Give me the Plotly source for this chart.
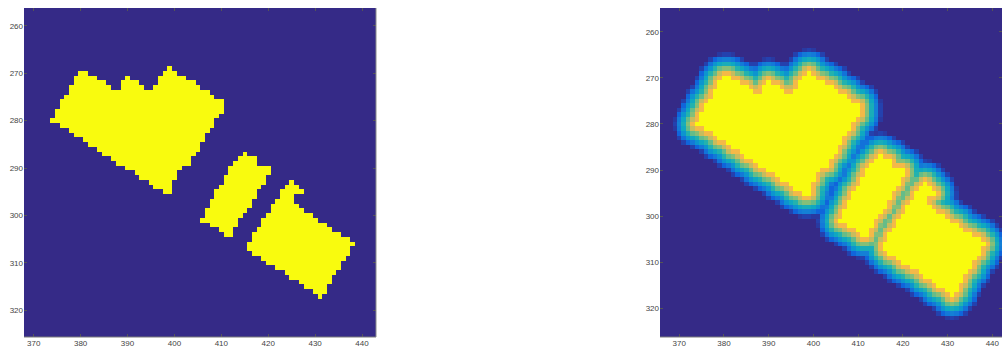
import numpy as np
import plotly.graph_objects as go

# Pixel grid covered by both images (column / row indices)
COL_FIRST, COL_LAST = 360, 450
ROW_FIRST, ROW_LAST = 250, 332

# Foreground runs of the segmentation mask: (row, first column, last column)
HEART_RUNS = [
    (269, 399, 399),
    (270, 380, 381), (270, 398, 400),
    (271, 379, 383), (271, 390, 390), (271, 397, 402),
    (272, 379, 385), (272, 389, 392), (272, 397, 404),
    (273, 378, 386), (273, 389, 393), (273, 396, 405),
    (274, 378, 407), (275, 377, 408), (276, 376, 410), (277, 376, 410),
    (278, 375, 410), (279, 375, 409), (280, 374, 408), (281, 376, 408),
    (282, 378, 407), (283, 379, 406), (284, 381, 406), (285, 382, 405),
    (286, 384, 405), (287, 385, 404), (288, 387, 403), (289, 388, 403),
    (290, 390, 401), (291, 392, 400), (292, 393, 400), (293, 395, 399),
    (294, 396, 399), (295, 398, 399),
]
STRIP_RUNS = [
    (287, 415, 415), (288, 414, 417), (289, 413, 417), (290, 412, 420),
    (291, 412, 420), (292, 411, 419), (293, 411, 419), (294, 410, 418),
    (295, 409, 417), (296, 409, 417), (297, 408, 416), (298, 408, 416),
    (299, 407, 415), (300, 407, 414), (301, 406, 413), (302, 408, 413),
    (303, 410, 412), (304, 411, 412),
]
BLOCK_RUNS = [
    (293, 425, 425), (294, 424, 426), (295, 423, 427), (296, 423, 425),
    (297, 422, 425), (298, 421, 426), (299, 421, 427), (300, 420, 429),
    (301, 419, 430), (302, 419, 432), (303, 418, 433), (304, 417, 435),
    (305, 417, 437), (306, 416, 438), (307, 416, 437), (308, 417, 437),
    (309, 419, 436), (310, 420, 435), (311, 422, 435), (312, 424, 434),
    (313, 425, 433), (314, 427, 433), (315, 428, 432), (316, 430, 432),
    (317, 431, 431),
]

# Soft mask fades linearly to background over FADE_DISTANCE pixels
FADE_DISTANCE = 5.3

# MATLAB parula colormap
PARULA = [
    [0.000, "#352a87"], [0.125, "#0f5cdd"], [0.250, "#1481d6"],
    [0.375, "#06a4ca"], [0.500, "#2eb7a4"], [0.625, "#87bf77"],
    [0.750, "#d1bb59"], [0.810, "#f4b948"], [0.900, "#fbd22e"],
    [1.000, "#f9fb0e"],
]

cols = np.arange(COL_FIRST, COL_LAST + 1)
rows = np.arange(ROW_FIRST, ROW_LAST + 1)

mask = np.zeros((rows.size, cols.size))
for runs in (HEART_RUNS, STRIP_RUNS, BLOCK_RUNS):
    for r, c0, c1 in runs:
        mask[r - ROW_FIRST, c0 - COL_FIRST:c1 - COL_FIRST + 1] = 1.0

# Euclidean distance from every pixel to the nearest foreground pixel
fy, fx = np.nonzero(mask)
gy, gx = np.meshgrid(rows - ROW_FIRST, cols - COL_FIRST, indexing="ij")
d2 = (gy[..., None] - fy[None, None, :]) ** 2 + (gx[..., None] - fx[None, None, :]) ** 2
dist = np.sqrt(d2.min(axis=2))
soft = np.clip(1.0 - dist / FADE_DISTANCE, 0.0, 1.0)

W, H = 1002, 349
fig = go.Figure()
fig.add_trace(go.Heatmap(x=cols, y=rows, z=mask, colorscale=PARULA, zmin=0, zmax=1,
                         showscale=False, xaxis="x", yaxis="y", hoverinfo="skip"))
fig.add_trace(go.Heatmap(x=cols, y=rows, z=soft, colorscale=PARULA, zmin=0, zmax=1,
                         showscale=False, xaxis="x2", yaxis="y2", hoverinfo="skip"))

tick_font = dict(family="Liberation Sans, Arial, sans-serif", size=8, color="#444444")
axis_style = dict(ticks="inside", ticklen=3, tickwidth=1, tickcolor="#555555",
                  showgrid=False, zeroline=False, showline=False, mirror="ticks",
                  tickfont=tick_font, automargin=False)

x1dom = [24 / W, 376 / W]
x2dom = [660 / W, 1.0]
ydom = [12 / H, 341 / H]
fig.update_layout(
    width=W, height=H,
    margin=dict(l=0, r=0, t=0, b=0),
    paper_bgcolor="white", plot_bgcolor="white",
    showlegend=False,
    xaxis=dict(domain=x1dom, range=[367.93, 442.98], anchor="y",
               tickvals=list(range(370, 441, 10)), **axis_style),
    yaxis=dict(domain=ydom, range=[325.6, 256.27], anchor="x",
               tickvals=list(range(260, 321, 10)), **axis_style),
    xaxis2=dict(domain=x2dom, range=[365.7, 442.17], anchor="y2",
                tickvals=list(range(370, 441, 10)), **axis_style),
    yaxis2=dict(domain=ydom, range=[326.2, 254.86], anchor="x2",
                tickvals=list(range(260, 321, 10)), **axis_style),
)

# Thin frame along the bottom of each image and the right edge of the first
for dom in (x1dom, x2dom):
    fig.add_shape(type="line", xref="paper", yref="paper", x0=dom[0], x1=dom[1],
                  y0=ydom[0], y1=ydom[0], line=dict(color="#7a7a7a", width=1))
fig.add_shape(type="line", xref="paper", yref="paper", x0=x1dom[1], x1=x1dom[1],
              y0=ydom[0], y1=ydom[1], line=dict(color="#8a8a8a", width=1))

fig.write_html("out.html")
